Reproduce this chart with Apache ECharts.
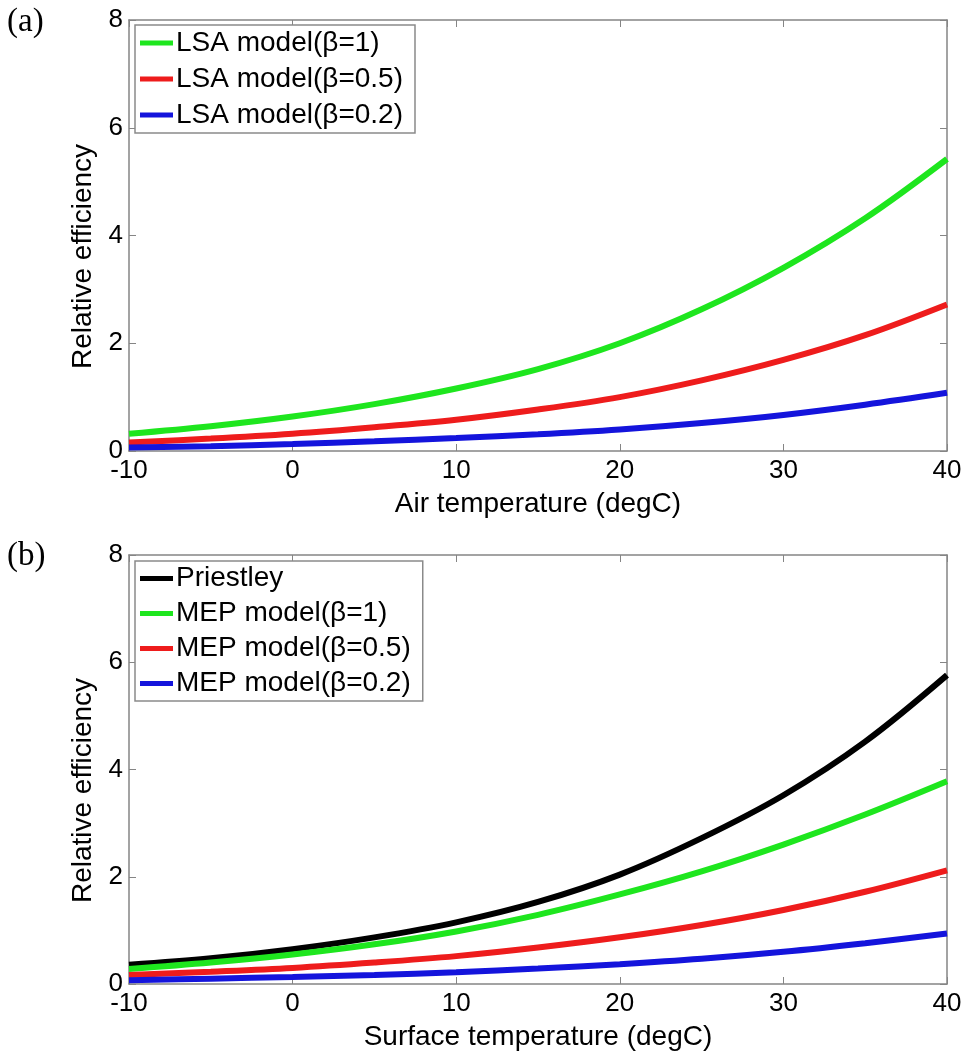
<!DOCTYPE html>
<html>
<head>
<meta charset="utf-8">
<script src="https://cdn.jsdelivr.net/npm/echarts@6/dist/echarts.min.js"></script>
<style>
  html, body { margin: 0; padding: 0; background: #fff; }
  #chart { width: 966px; height: 1052px; }
</style>
</head>
<body>
<div id="chart"></div>
<script>
// Temperature samples (degC)
const temps = [-10, -5, 0, 5, 10, 15, 20, 25, 30, 35, 40];

// Panel (a): LSA model vs air temperature
const lsaBeta1   = [0.32, 0.46, 0.64, 0.87, 1.16, 1.52, 2.00, 2.63, 3.40, 4.32, 5.42];
const lsaBeta05  = [0.16, 0.23, 0.32, 0.44, 0.58, 0.77, 1.00, 1.31, 1.69, 2.15, 2.72];
const lsaBeta02  = [0.065, 0.09, 0.13, 0.18, 0.24, 0.31, 0.40, 0.52, 0.67, 0.86, 1.08];

// Panel (b): Priestley and MEP model vs surface temperature
const priestley  = [0.36, 0.48, 0.65, 0.87, 1.15, 1.53, 2.04, 2.72, 3.52, 4.52, 5.76];
const mepBeta1   = [0.28, 0.40, 0.55, 0.74, 0.98, 1.29, 1.67, 2.10, 2.60, 3.16, 3.78];
const mepBeta05  = [0.17, 0.23, 0.30, 0.40, 0.52, 0.68, 0.87, 1.10, 1.38, 1.72, 2.12];
const mepBeta02  = [0.07, 0.10, 0.13, 0.17, 0.22, 0.29, 0.37, 0.47, 0.60, 0.76, 0.94];

const xTitles = ['Air temperature (degC)', 'Surface temperature (degC)'];
const yTitle = 'Relative efficiency';
const panelTags = ['(a)', '(b)'];

const FONT = '"Liberation Sans", Arial, sans-serif';
const AXIS_GREY = '#858585';

const pairs = (ys) => temps.map((t, i) => [t, ys[i]]);

const grids = [
  { left: 129, top: 20, width: 818, height: 431 },
  { left: 129, top: 555, width: 818, height: 432 }
];

function xAxes(gi, pos, showLabel) {
  return {
    type: 'value', gridIndex: gi, position: pos,
    min: -10, max: 40, interval: 10,
    name: showLabel ? xTitles[gi] : '',
    nameLocation: 'middle', nameGap: 39,
    nameTextStyle: { fontFamily: FONT, fontSize: 28, color: '#000' },
    axisLine: { show: true, onZero: false, lineStyle: { color: AXIS_GREY, width: 1.5 } },
    axisTick: { show: true, inside: true, length: 7, lineStyle: { color: AXIS_GREY } },
    axisLabel: { show: showLabel, fontFamily: FONT, fontSize: 26, color: '#000', margin: 7,
                 showMinLabel: true, showMaxLabel: true },
    splitLine: { show: false }
  };
}
function yAxes(gi, pos, showLabel) {
  return {
    type: 'value', gridIndex: gi, position: pos,
    min: 0, max: 8, interval: 2,
    name: showLabel ? yTitle : '',
    nameLocation: 'middle', nameGap: 23, nameRotate: 90,
    nameTextStyle: { fontFamily: FONT, fontSize: 28, color: '#000', padding: [0, 42, 0, 0] },
    axisLine: { show: true, onZero: false, lineStyle: { color: AXIS_GREY, width: 1.5 } },
    axisTick: { show: true, inside: true, length: 7, lineStyle: { color: AXIS_GREY } },
    axisLabel: { show: showLabel, fontFamily: FONT, fontSize: 26, color: '#000', margin: 6,
                 showMinLabel: true, showMaxLabel: true },
    splitLine: { show: false }
  };
}

function line(name, ys, color, xi, yi) {
  return {
    type: 'line', name, data: pairs(ys), xAxisIndex: xi, yAxisIndex: yi,
    smooth: 0.35, showSymbol: false, symbol: 'none',
    lineStyle: { color, width: 6 }, itemStyle: { color },
    z: 3
  };
}

const GREEN = '#1ee61e', RED = '#ee1c1c', BLUE = '#1414dc', BLACK = '#000000';

function legendBox(top, names, rowH) {
  return {
    orient: 'vertical', left: 135, top,
    data: names,
    icon: 'rect', itemWidth: 33, itemHeight: 5, itemGap: 4,
    padding: [2, 12, 2, 5],
    borderColor: '#8a8a8a', borderWidth: 1.5, backgroundColor: '#fff',
    textStyle: { fontFamily: FONT, fontSize: 28, color: '#000', lineHeight: rowH, padding: [0, 0, 0, -2] },
    selectedMode: false
  };
}

const option = {
  animation: false,
  backgroundColor: '#fff',
  grid: grids,
  xAxis: [xAxes(0, 'bottom', true), xAxes(0, 'top', false), xAxes(1, 'bottom', true), xAxes(1, 'top', false)],
  yAxis: [yAxes(0, 'left', true), yAxes(0, 'right', false), yAxes(1, 'left', true), yAxes(1, 'right', false)],
  legend: [
    legendBox(25, ['LSA model(β=1)', 'LSA model(β=0.5)', 'LSA model(β=0.2)'], 32),
    legendBox(561, ['Priestley', 'MEP model(β=1)', 'MEP model(β=0.5)', 'MEP model(β=0.2)'], 31)
  ],
  series: [
    line('LSA model(β=1)', lsaBeta1, GREEN, 0, 0),
    line('LSA model(β=0.5)', lsaBeta05, RED, 0, 0),
    line('LSA model(β=0.2)', lsaBeta02, BLUE, 0, 0),
    line('Priestley', priestley, BLACK, 2, 2),
    line('MEP model(β=1)', mepBeta1, GREEN, 2, 2),
    line('MEP model(β=0.5)', mepBeta05, RED, 2, 2),
    line('MEP model(β=0.2)', mepBeta02, BLUE, 2, 2)
  ],
  graphic: [
    { type: 'text', left: 7, top: 6, style: { text: panelTags[0], font: '33px "Liberation Serif", "Times New Roman", serif', fill: '#000' } },
    { type: 'text', left: 7, top: 540, style: { text: panelTags[1], font: '33px "Liberation Serif", "Times New Roman", serif', fill: '#000' } }
  ]
};

const chart = echarts.init(document.getElementById('chart'), null, { renderer: 'canvas' });
chart.setOption(option);
</script>
</body>
</html>
